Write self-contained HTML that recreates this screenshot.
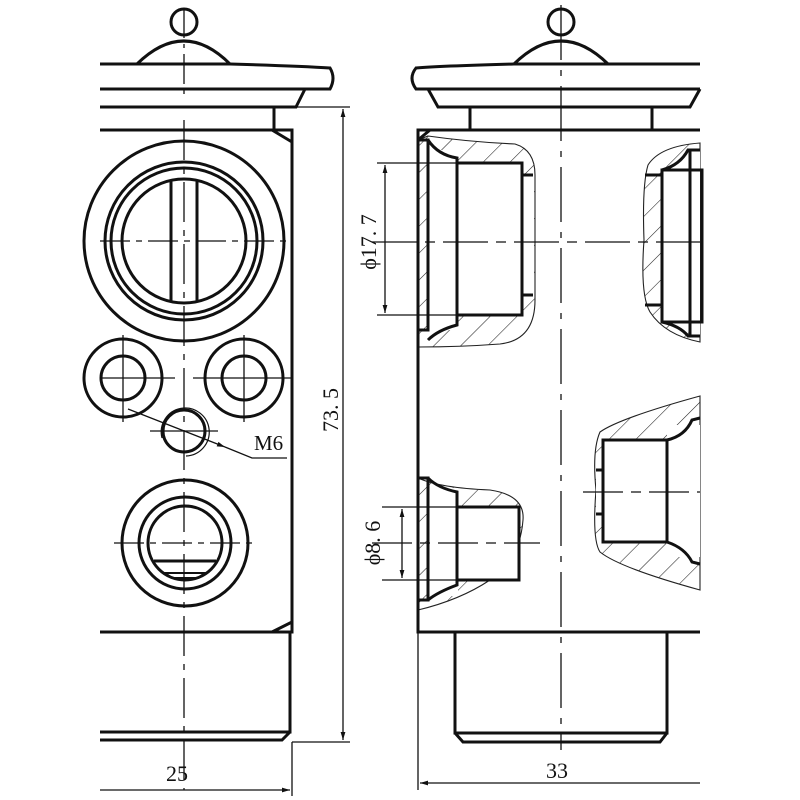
<!DOCTYPE html>
<html><head><meta charset="utf-8"><style>
html,body{margin:0;padding:0;background:#fff;}
svg{display:block}
text{font-family:"Liberation Serif",serif;fill:#111}
</style></head><body>
<svg width="800" height="800" viewBox="0 0 800 800" xmlns="http://www.w3.org/2000/svg">
<defs>
<pattern id="h" patternUnits="userSpaceOnUse" width="19" height="19" patternTransform="rotate(45)">
<line x1="0" y1="0" x2="0" y2="19" stroke="#222" stroke-width="1.1"/>
</pattern>
<marker id="a" viewBox="0 0 10 10" refX="10" refY="5" markerWidth="12" markerHeight="8" orient="auto-start-reverse" markerUnits="userSpaceOnUse">
<path d="M0,2 L10,5 L0,8 Z" fill="#111"/></marker>
</defs>
<rect width="800" height="800" fill="#fff"/>

<!-- ============ LEFT VIEW ============ -->
<g fill="none" stroke="#111" stroke-width="3">
<circle cx="184" cy="22" r="13"/>
<path d="M137,64 Q184,18 230,64"/>
<path d="M100,64 L230,64 Q300,66 330,68 Q336,78 330,89 L100,89"/>
<path d="M100,107 L296,107 L305,89"/>
<line x1="274" y1="107" x2="274" y2="130"/>
<path d="M100,130 L292,130 L292,632 L100,632"/>
<line x1="272" y1="130" x2="292" y2="142"/>
<line x1="272" y1="632" x2="292" y2="622"/>
<path d="M290,632 L290,732 L100,732"/>
<path d="M100,740 L282,740 L290,732"/>
<circle cx="184" cy="241" r="100"/>
<circle cx="184" cy="241" r="79"/>
<circle cx="184" cy="241" r="73"/>
<circle cx="184" cy="241" r="62"/>
<line x1="171" y1="181" x2="171" y2="302"/>
<line x1="197" y1="181" x2="197" y2="302"/>
<circle cx="123" cy="378" r="39"/>
<circle cx="123" cy="378" r="22"/>
<circle cx="244" cy="378" r="39"/>
<circle cx="244" cy="378" r="22"/>
<circle cx="184" cy="431" r="21"/>
<circle cx="185" cy="543" r="63"/>
<circle cx="185" cy="543" r="46"/>
<circle cx="185" cy="543" r="37"/>
<line x1="154" y1="561" x2="216" y2="561"/>
<path d="M165,573 L205,573 L198,578 L172,578 Z" stroke-width="2"/>
</g>
<path d="M162,438 A24,24 0 1 1 186,456" fill="none" stroke="#111" stroke-width="1.2"/>
<g stroke="#111" stroke-width="1.3" fill="none">
<line x1="184" y1="8" x2="184" y2="100" stroke-dasharray="30,6,4,6"/>
<line x1="184" y1="120" x2="184" y2="790" stroke-dasharray="40,8,6,8"/>
<line x1="100" y1="241" x2="290" y2="241" stroke-dasharray="30,6,6,6"/>
<line x1="100" y1="378" x2="175" y2="378"/><line x1="193" y1="378" x2="292" y2="378"/>
<line x1="123" y1="335" x2="123" y2="422"/><line x1="244" y1="335" x2="244" y2="422"/>
<line x1="150" y1="431" x2="218" y2="431"/>
<line x1="114" y1="543" x2="256" y2="543" stroke-dasharray="30,6,6,6"/>
<line x1="128" y1="409" x2="225" y2="447" marker-end="url(#a)"/>
<polyline points="225,447 252,458 287,458"/>
<line x1="296" y1="107" x2="350" y2="107"/>
<line x1="292" y1="742" x2="350" y2="742"/>
<line x1="343" y1="109" x2="343" y2="740" marker-start="url(#a)" marker-end="url(#a)"/>
<line x1="292" y1="742" x2="292" y2="796"/>
<line x1="100" y1="790" x2="290" y2="790" marker-end="url(#a)"/>
</g>
<text x="254" y="450" font-size="21">M6</text>
<text x="166" y="781" font-size="22">25</text>
<text transform="translate(338,410) rotate(-90)" font-size="22" text-anchor="middle">73. 5</text>

<!-- ============ RIGHT VIEW ============ -->
<g fill="url(#h)" stroke="#222" stroke-width="1.1">
<path d="M428,136 Q470,142 515,144 Q535,150 535,175 L535,300 Q535,340 500,344 Q460,347 418,347 L418,140 Z"/>
<path d="M700,143 Q660,146 648,165 Q642,185 644,240 Q640,295 650,312 Q665,335 700,342 Z"/>
<path d="M418,478 Q440,488 490,490 Q525,495 523,520 Q520,560 490,580 Q460,600 418,610 Z"/>
<path d="M700,396 Q620,418 600,432 Q592,450 596,490 Q592,540 600,552 Q620,568 700,590 Z"/>
</g>
<g fill="#fff" stroke="none">
<rect x="428" y="150" width="30" height="180"/><rect x="457" y="163" width="66" height="152"/><rect x="522" y="175" width="12" height="120"/>
<rect x="428" y="488" width="30" height="108"/><rect x="457" y="507" width="62" height="73"/>
<rect x="662" y="170" width="38" height="152"/><rect x="690" y="150" width="10" height="185"/>
<rect x="603" y="440" width="64" height="102"/><rect x="667" y="425" width="33" height="132"/>
<rect x="596" y="468" width="8" height="48"/>
</g>
<g fill="none" stroke="#111" stroke-width="3">
<circle cx="561" cy="22" r="13"/>
<path d="M514,64 Q561,18 608,64"/>
<path d="M700,64 L514,64 Q440,66 416,68 Q408,78 416,89 L700,89"/>
<path d="M428,89 L438,107 L690,107 L700,89"/>
<line x1="470" y1="107" x2="470" y2="130"/>
<line x1="652" y1="107" x2="652" y2="130"/>
<path d="M700,130 L418,130 L418,632 L700,632"/>
<line x1="418" y1="140" x2="430" y2="130"/>
<path d="M418,140 L428,140 L428,330 L418,330"/>
<path d="M428,140 Q438,155 457,158 L457,325 Q438,330 428,340"/>
<rect x="457" y="163" width="65" height="152"/>
<path d="M522,175 L533,175 M522,295 L533,295"/>
<path d="M418,478 L428,478 L428,600 L418,600"/>
<path d="M428,478 Q438,488 457,492 L457,585 Q438,592 428,600"/>
<rect x="457" y="507" width="62" height="73"/>
<rect x="662" y="170" width="40" height="152"/>
<path d="M662,170 Q680,165 688,150 L700,150"/>
<path d="M662,322 Q680,326 688,336 L700,336"/>
<line x1="690" y1="150" x2="690" y2="336"/>
<line x1="645" y1="175" x2="662" y2="175"/><line x1="645" y1="305" x2="662" y2="305"/>
<rect x="603" y="440" width="64" height="102"/>
<path d="M667,440 Q685,436 692,420 L700,418"/>
<path d="M667,542 Q685,548 692,562 L700,564"/>
<line x1="596" y1="470" x2="603" y2="470"/><line x1="596" y1="514" x2="603" y2="514"/>
<path d="M455,632 L455,733 L667,733 L667,632"/>
<path d="M455,733 L463,742 L660,742 L667,733"/>
</g>
<g stroke="#111" stroke-width="1.3" fill="none">
<line x1="561" y1="5" x2="561" y2="750" stroke-dasharray="55,10,6,10"/>
<line x1="372" y1="242" x2="700" y2="242" stroke-dasharray="45,8,10,8"/>
<line x1="372" y1="543" x2="540" y2="543" stroke-dasharray="40,8,10,8"/>
<line x1="583" y1="492" x2="700" y2="492" stroke-dasharray="40,8,10,8"/>
<line x1="377" y1="163" x2="460" y2="163"/>
<line x1="377" y1="315" x2="460" y2="315"/>
<line x1="385" y1="165" x2="385" y2="313" marker-start="url(#a)" marker-end="url(#a)"/>
<line x1="382" y1="507" x2="460" y2="507"/>
<line x1="382" y1="580" x2="460" y2="580"/>
<line x1="402" y1="509" x2="402" y2="578" marker-start="url(#a)" marker-end="url(#a)"/>
<line x1="418" y1="632" x2="418" y2="790"/>
<line x1="420" y1="783" x2="700" y2="783" marker-start="url(#a)"/>
</g>
<text transform="translate(376,242) rotate(-90)" font-size="22" text-anchor="middle">ϕ17. 7</text>
<text transform="translate(380,543) rotate(-90)" font-size="22" text-anchor="middle">ϕ8. 6</text>
<text x="546" y="778" font-size="22">33</text>
</svg>
</body></html>
